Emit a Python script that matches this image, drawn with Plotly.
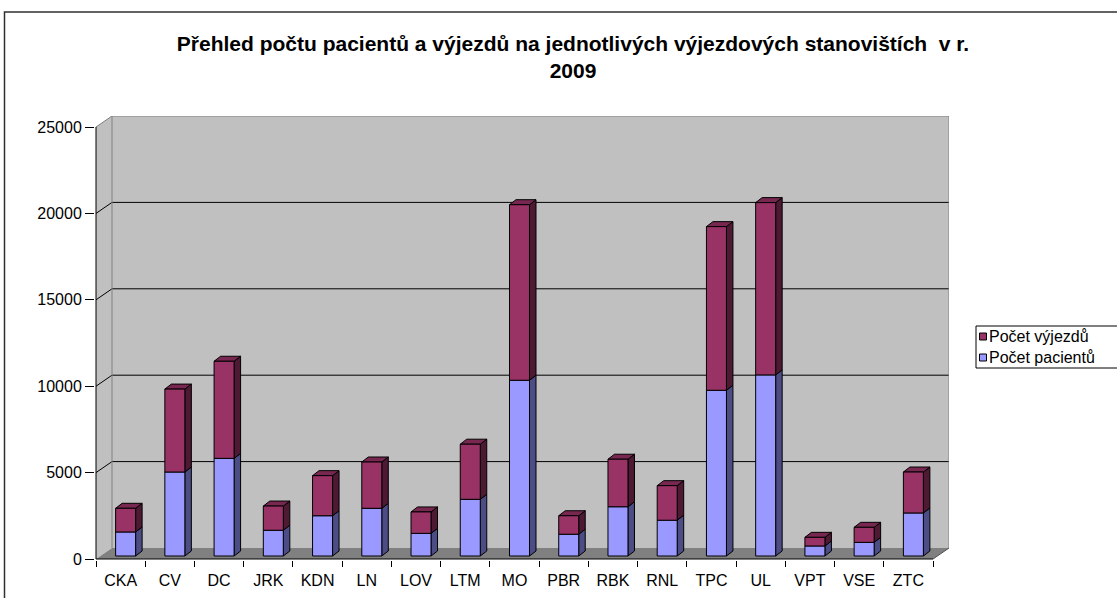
import plotly.graph_objects as go

# ---------------- data ----------------
categories = ["CKA", "CV", "DC", "JRK", "KDN", "LN", "LOV", "LTM", "MO",
              "PBR", "RBK", "RNL", "TPC", "UL", "VPT", "VSE", "ZTC"]
pocet_pacientu = [1390, 4860, 5650, 1490, 2330, 2760, 1310, 3280, 10170,
                  1260, 2850, 2070, 9590, 10480, 580, 790, 2490]
pocet_vyjezdu = [1370, 4800, 5620, 1400, 2320, 2680, 1240, 3190, 10160,
                 1070, 2750, 2000, 9470, 9970, 500, 870, 2370]
y_ticks = [0, 5000, 10000, 15000, 20000, 25000]
series_names = ["Počet výjezdů", "Počet pacientů"]

# ---------------- geometry (pixel based) ----------------
W, H = 1117, 598
L, R, T, B = 95, 168, 116, 38
PW, PH = W - L - R, H - T - B
YMAX = 25000
SX = 49.235             # px per category
SY = 432.0 / YMAX       # px per value unit
X0 = -1.0 / SX
X1 = X0 + PW / SX
Y0 = -1.0 / SY
Y1 = Y0 + PH / SY
N = len(categories)
DX = X1 - N             # depth offset of back wall (x units)
DY = Y1 - YMAX          # depth offset of back wall (y units)
OX, OY = 5.0 / SX, 3.0 / SY       # bar front-face depth offset
BW = 20.0 / SX                    # bar width
BDX, BDY = 6.5 / SX, 5.0 / SY     # bar depth

FONT = "Arial, Liberation Sans, sans-serif"
BLUE, BLUE_SIDE = "#9999FF", "#4D4D85"
MAG, MAG_SIDE, MAG_TOP = "#993366", "#4D1933", "#782850"


def poly_trace(polys, fill, line_color="black", line_width=1, name=None):
    xs, ys = [], []
    for p in polys:
        for (x, y) in p:
            xs.append(x)
            ys.append(y)
        xs.append(p[0][0])
        ys.append(p[0][1])
        xs.append(None)
        ys.append(None)
    return go.Scatter(x=xs, y=ys, mode="lines", fill="toself", fillcolor=fill,
                      line=dict(color=line_color, width=line_width),
                      hoverinfo="skip", showlegend=False, name=name)


def line_trace(segs, color, width=1):
    xs, ys = [], []
    for s in segs:
        for (x, y) in s:
            xs.append(x)
            ys.append(y)
        xs.append(None)
        ys.append(None)
    return go.Scatter(x=xs, y=ys, mode="lines", line=dict(color=color, width=width),
                      hoverinfo="skip", showlegend=False)


fig = go.Figure()

# walls and floor
fig.add_trace(poly_trace([[(0, 0), (DX, DY), (DX, YMAX + DY), (0, YMAX)]], "#C0C0C0",
                         line_color="rgba(0,0,0,0)", line_width=0))
fig.add_trace(poly_trace([[(DX, DY), (N + DX, DY), (N + DX, YMAX + DY), (DX, YMAX + DY)]],
                         "#C0C0C0", line_color="rgba(0,0,0,0)", line_width=0))
fig.add_trace(poly_trace([[(0, 0), (N, 0), (N + DX, DY), (DX, DY)]], "#808080",
                         line_color="rgba(0,0,0,0)", line_width=0))

# gridlines (side wall diagonal + back wall horizontal)
grid = [[(0, v), (DX, v + DY), (N + DX, v + DY)] for v in y_ticks[1:-1]]
fig.add_trace(line_trace(grid, "black", 1))
# wall edges
edges = [[(0, YMAX), (DX, YMAX + DY), (N + DX, YMAX + DY), (N + DX, DY)],
         [(DX, DY), (DX, YMAX + DY)]]
fig.add_trace(line_trace(edges, "#808080", 1))
fig.add_trace(line_trace([[(N, 0), (N + DX, DY)]], "#505050", 1))

# bars
blue_front, blue_side, mag_front, mag_side, mag_top = [], [], [], [], []
for i in range(N):
    xl = i + 0.5 - BW / 2 + OX
    xr = xl + BW
    segs = [(0, pocet_pacientu[i], blue_front, blue_side),
            (pocet_pacientu[i], pocet_pacientu[i] + pocet_vyjezdu[i], mag_front, mag_side)]
    for (v0, v1, fr, sd) in segs:
        y0, y1 = v0 + OY, v1 + OY
        fr.append([(xl, y0), (xr, y0), (xr, y1), (xl, y1)])
        sd.append([(xr, y0), (xr + BDX, y0 + BDY), (xr + BDX, y1 + BDY), (xr, y1)])
    ytop = pocet_pacientu[i] + pocet_vyjezdu[i] + OY
    mag_top.append([(xl, ytop), (xr, ytop), (xr + BDX, ytop + BDY), (xl + BDX, ytop + BDY)])

fig.add_trace(poly_trace(blue_side, BLUE_SIDE))
fig.add_trace(poly_trace(blue_front, BLUE, name=series_names[1]))
fig.add_trace(poly_trace(mag_side, MAG_SIDE))
fig.add_trace(poly_trace(mag_top, MAG_TOP))
fig.add_trace(poly_trace(mag_front, MAG, name=series_names[0]))

# front axis lines
fig.add_trace(line_trace([[(0, 0), (0, YMAX)], [(0, 0), (N, 0)]], "black", 1))


def px_to_paper_x(px):
    return (px - L) / PW


def px_to_paper_y(py):
    return (H - B - py) / PH


shapes = []
# chart frame
shapes.append(dict(type="rect", xref="paper", yref="paper",
                   x0=px_to_paper_x(4.5), x1=px_to_paper_x(W + 40),
                   y0=px_to_paper_y(12), y1=px_to_paper_y(H + 40),
                   line=dict(color="#303030", width=1.5), fillcolor="rgba(0,0,0,0)", layer="below"))
# legend box
shapes.append(dict(type="rect", xref="paper", yref="paper",
                   x0=px_to_paper_x(976), x1=px_to_paper_x(W + 40),
                   y0=px_to_paper_y(368), y1=px_to_paper_y(326),
                   line=dict(color="black", width=1), fillcolor="white"))
annotations = []
legend_rows = [(series_names[0], MAG, 336.5), (series_names[1], BLUE, 357.5)]
for name, col, cy in legend_rows:
    shapes.append(dict(type="rect", xref="paper", yref="paper",
                       x0=px_to_paper_x(979.5), x1=px_to_paper_x(986.5),
                       y0=px_to_paper_y(cy + 3.5), y1=px_to_paper_y(cy - 3.5),
                       line=dict(color="black", width=1), fillcolor=col))
    annotations.append(dict(text=name, xref="paper", yref="paper",
                            x=px_to_paper_x(987), y=px_to_paper_y(cy),
                            xanchor="left", yanchor="middle", showarrow=False,
                            font=dict(family=FONT, size=16, color="black")))

fig.update_layout(
    width=W, height=H,
    margin=dict(l=L, r=R, t=T, b=B, autoexpand=False),
    paper_bgcolor="white", plot_bgcolor="white",
    showlegend=False,
    title=dict(text="<b>Přehled počtu pacientů a výjezdů na jednotlivých výjezdových stanovištích \u00a0v r.<br>2009</b>",
               x=573 / W, xanchor="center", xref="container",
               y=1 - 51 / H, yanchor="middle", yref="container",
               font=dict(family=FONT, size=21, color="black")),
    xaxis=dict(range=[X0, X1], tickmode="array",
               tickvals=[i + 0.5 for i in range(N)], ticktext=categories,
               ticks="outside", ticklen=6, tickcolor="rgba(0,0,0,0)",
               showgrid=False, zeroline=False, showline=False,
               tickfont=dict(family=FONT, size=16, color="black"),
               minor=dict(tickmode="array", tickvals=list(range(N + 1)), ticks="outside",
                          ticklen=6, tickcolor="black", tickwidth=1, showgrid=False),
               fixedrange=True),
    yaxis=dict(range=[Y0, Y1], tickmode="array", tickvals=y_ticks,
               ticktext=[str(v) for v in y_ticks],
               ticks="outside", ticklen=9, tickcolor="black", tickwidth=1,
               showgrid=False, zeroline=False, showline=False,
               tickfont=dict(family=FONT, size=16, color="black"),
               fixedrange=True),
    shapes=shapes,
    annotations=annotations,
)

fig.write_html("out.html", config={"displayModeBar": False},
               post_script="document.body.style.margin='0px';")
